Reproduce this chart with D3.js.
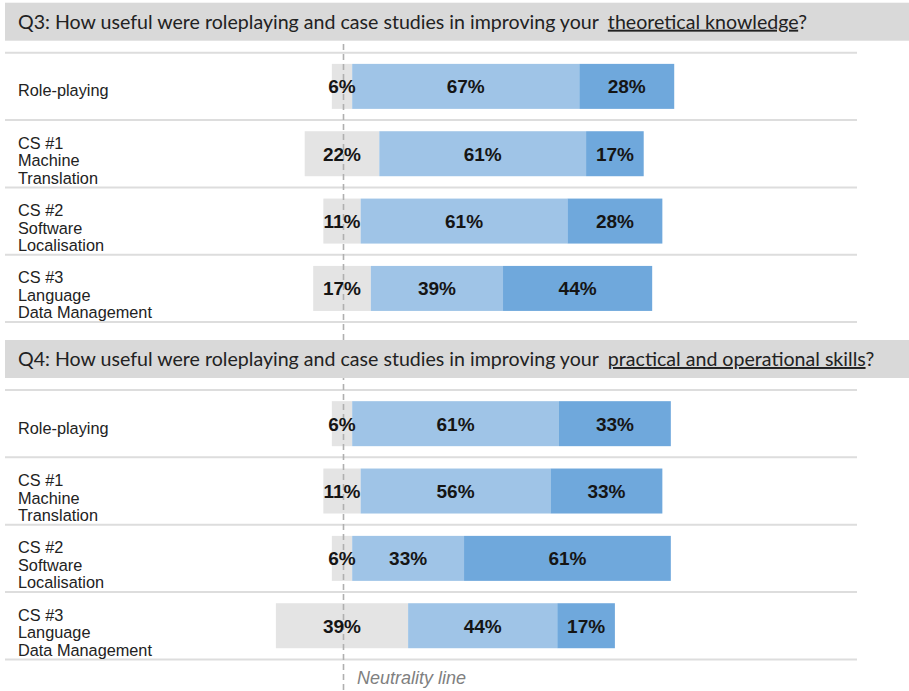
<!DOCTYPE html>
<html>
<head>
<meta charset="utf-8">
<script src="https://cdn.jsdelivr.net/npm/d3@7"></script>
<style>
  html, body { margin: 0; padding: 0; background: #fff; }
  svg { display: block; }
</style>
</head>
<body>
<svg id="chart" width="909" height="691"></svg>
<script>
// ---------- DATA ----------
const categories = [
  ["Role-playing"],
  ["CS #1", "Machine", "Translation"],
  ["CS #2", "Software", "Localisation"],
  ["CS #3", "Language", "Data Management"]
];
const seriesNames = ["Neutral", "Useful", "Very useful"];

const q3Title = ["Q3: How useful were roleplaying and case studies in improving your", "theoretical knowledge", "?"];
const q3Neutral    = [6, 22, 11, 17];
const q3Useful     = [67, 61, 61, 39];
const q3VeryUseful = [28, 17, 28, 44];

const q4Title = ["Q4: How useful were roleplaying and case studies in improving your", "practical and operational skills", "?"];
const q4Neutral    = [6, 11, 6, 39];
const q4Useful     = [61, 56, 33, 44];
const q4VeryUseful = [33, 33, 61, 17];

const neutralityLabel = "Neutrality line";

// ---------- LAYOUT ----------
const W = 909, H = 691;
const colors = ["#e4e4e4", "#9fc4e7", "#6fa8dc"];
const svg = d3.select("#chart");

const center = 342;          // centre of the neutral segment
const x = d3.scaleLinear().domain([0, 100]).range([center, center + 339]);
const neutralX = 343.5;

const panels = [
  { title: q3Title, vals: [q3Neutral, q3Useful, q3VeryUseful], bandTop: 2.7 },
  { title: q4Title, vals: [q4Neutral, q4Useful, q4VeryUseful], bandTop: 340 }
];
const bandH = 38;
const rowsH = 269.4;

const gLines = svg.append("g");
const gBars = svg.append("g");
const gNeutral = svg.append("g");
const gHeaders = svg.append("g");
const gText = svg.append("g");

// neutrality line (drawn above bars, below headers)
gNeutral.append("line")
  .attr("x1", neutralX).attr("x2", neutralX)
  .attr("y1", 44).attr("y2", H)
  .attr("stroke", "#b0b0b0")
  .attr("stroke-width", 1.6)
  .attr("stroke-dasharray", "6,4");

gText.append("text")
  .attr("x", 357).attr("y", 684)
  .attr("font-family", "Liberation Sans, Arial, sans-serif")
  .attr("font-style", "italic")
  .attr("font-size", 18)
  .attr("fill", "#808080")
  .text(neutralityLabel);

panels.forEach(p => {
  const rowTop = p.bandTop + 50;
  const y = d3.scaleBand()
    .domain(d3.range(categories.length))
    .range([rowTop, rowTop + rowsH])
    .padding(0);
  const barH = 45;

  // header band
  gHeaders.append("rect")
    .attr("x", 5).attr("y", p.bandTop)
    .attr("width", W - 5).attr("height", bandH)
    .attr("fill", "#d9d9d9");
  const t = gHeaders.append("text")
    .attr("x", 18).attr("y", p.bandTop + 26)
    .attr("font-family", "Lato, sans-serif")
    .attr("font-size", 19.6)
    .attr("fill", "#222");
  t.append("tspan").text(p.title[0]);
  t.append("tspan").attr("dx", 9).attr("text-decoration", "underline").text(p.title[1]);
  t.append("tspan").text(p.title[2]);

  // separators
  const seps = d3.range(categories.length + 1).map(i => rowTop + i * y.step());
  gLines.selectAll(null).data(seps).enter().append("line")
    .attr("x1", 5).attr("x2", 857)
    .attr("y1", d => d).attr("y2", d => d)
    .attr("stroke", "#dddddd")
    .attr("stroke-width", 2);

  // stacked segments
  const rows = categories.map((c, i) => {
    const n = p.vals[0][i];
    let start = -n / 2;
    return p.vals.map((s, k) => {
      const seg = { row: i, k, v: s[i], x0: start, x1: start + s[i] };
      start += s[i];
      return seg;
    });
  }).flat();

  gBars.selectAll(null).data(rows).enter().append("rect")
    .attr("x", d => x(d.x0))
    .attr("width", d => x(d.x1) - x(d.x0))
    .attr("y", d => y(d.row) + (y.bandwidth() - barH) / 2)
    .attr("height", barH)
    .attr("fill", d => colors[d.k]);

  gText.selectAll(null).data(rows).enter().append("text")
    .attr("x", d => (x(d.x0) + x(d.x1)) / 2)
    .attr("y", d => y(d.row) + y.bandwidth() / 2 + 7)
    .attr("text-anchor", "middle")
    .attr("font-family", "Liberation Sans, Arial, sans-serif")
    .attr("font-weight", "bold")
    .attr("font-size", 19)
    .attr("fill", "#151515")
    .text(d => d.v + "%");

  // category labels
  categories.forEach((lines, i) => {
    const cy = y(i) + y.bandwidth() / 2;
    const lt = gText.append("text")
      .attr("font-family", "Liberation Sans, Arial, sans-serif")
      .attr("font-size", 16.3)
      .attr("fill", "#222");
    lines.forEach((ln, j) => {
      const base = lines.length === 1 ? cy + 10 : cy - 5 + j * 17.5;
      lt.append("tspan").attr("x", 18).attr("y", base).text(ln);
    });
  });
});
</script>
</body>
</html>
